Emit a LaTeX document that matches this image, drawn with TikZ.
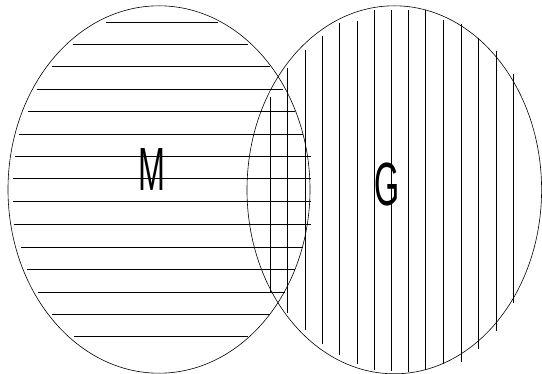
\documentclass[tikz,border=0pt]{standalone}
\usepackage{fontspec}
\setmainfont{Liberation Sans}
\begin{document}
\begin{tikzpicture}[x=1pt,y=-1pt,
  hatch/.style={line width=0.8pt, black},
  outline/.style={line width=0.6pt, black},
  letter/.style={inner sep=0pt, font=\fontsize{61}{61}\selectfont}]
\useasboundingbox (0,0) rectangle (542,374);
% horizontal hatching of M
\foreach \y/\a/\b in {22.3/106/218, 44.3/72.7/247.7, 66.7/52.3/270, 89.3/36.7/283,
  111.7/28.3/295, 134.3/19/303, 156/15/310.7, 178.7/13.3/310.7, 201/12.7/310.7,
  224.3/14/310.7, 247/20.7/302.5, 269.3/26.7/295, 292/38.3/285, 314.3/52.3/270,
  336.7/74/248.3}
  \draw[hatch] (\a,\y) -- (\b,\y);
% vertical hatching of G
\foreach \x/\a/\b in {270.7/96.7/293, 287.3/68.3/313, 305/50/330.3, 322.3/36/343.7,
  339.7/23.3/355.3, 357/20.7/363.7, 374/10/369.7, 391.3/10/371, 408.7/10/372,
  425.7/10/369.7, 443.3/20/363.7, 461.3/24/362, 478.7/37.7/348.7, 496/50.7/331,
  513.3/74/302.7}
  \draw[hatch] (\x,\a) -- (\x,\b);
% ellipses
\draw[outline] (159,189.5) ellipse [x radius=151, y radius=183.7];
\draw[outline] (394.3,189.8) ellipse [x radius=147.3, y radius=184];
% labels
\node[letter] (m) at (151.7,169.5) {\scalebox{0.53}[1]{M}};
\node[letter] (g) at (387.2,185) {\scalebox{0.53}[1]{G}};
\end{tikzpicture}
\end{document}
